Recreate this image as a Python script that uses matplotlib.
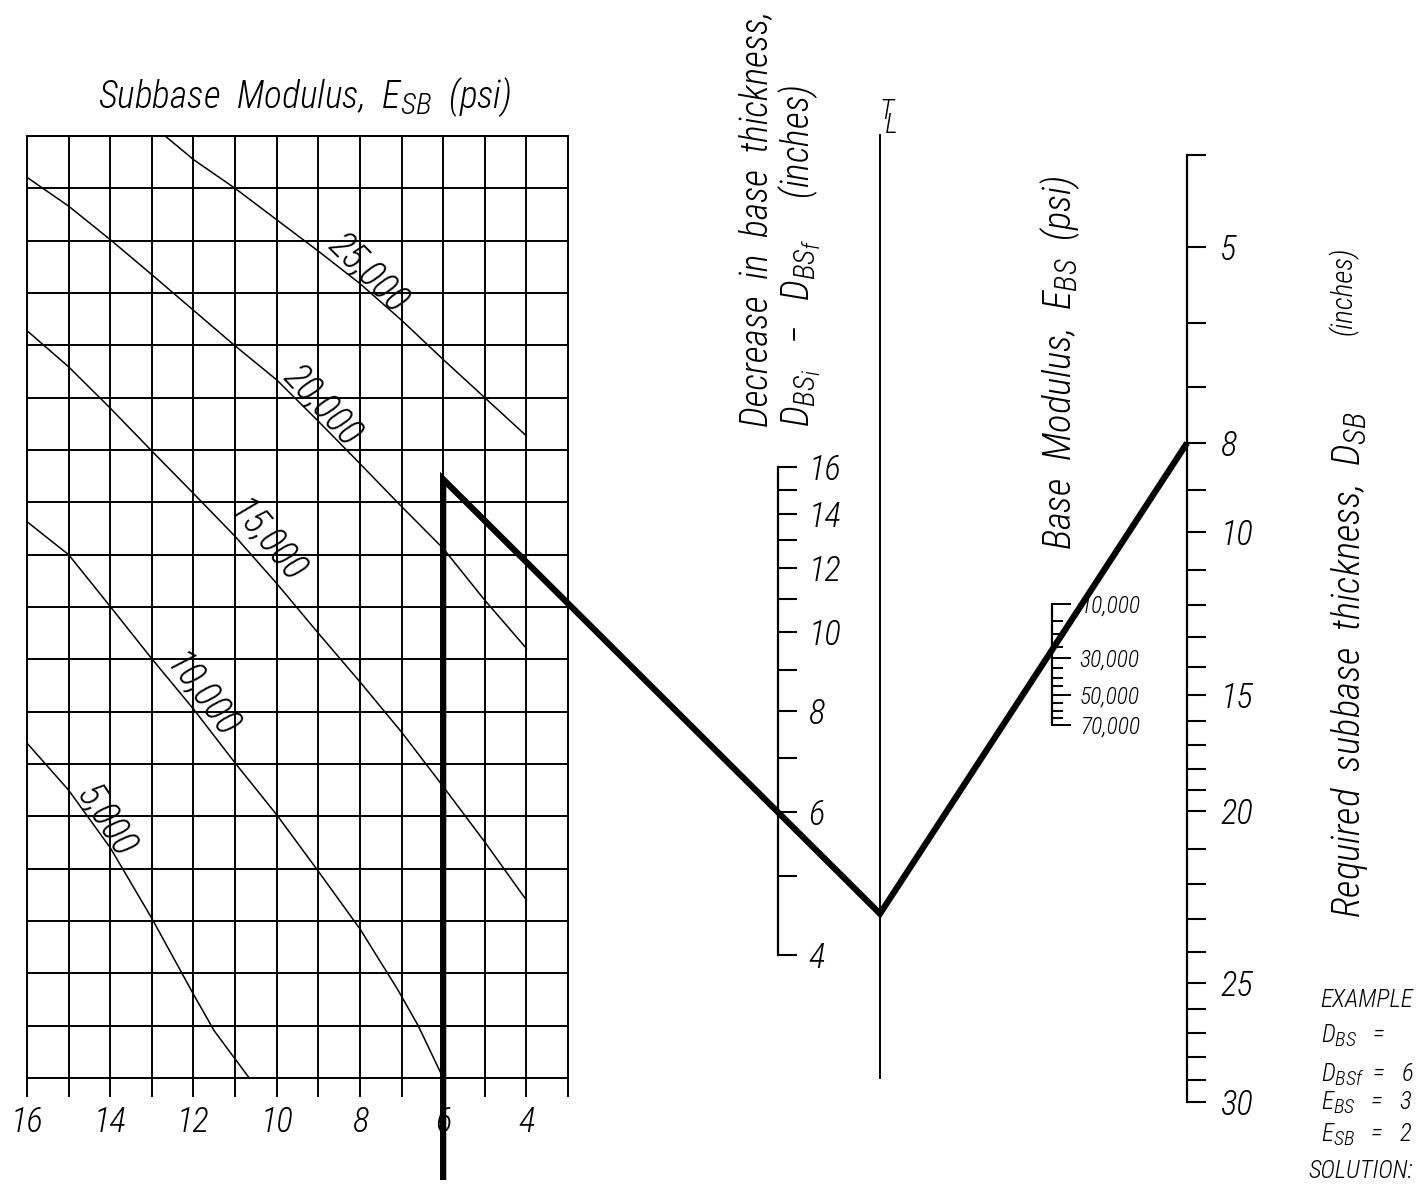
import matplotlib
matplotlib.use("Agg")
import matplotlib.pyplot as plt
import matplotlib._mathtext as mathtext_impl
from matplotlib import font_manager
from matplotlib.lines import Line2D
from matplotlib.ticker import NullLocator
import numpy as np

# ---------------- values ----------------
grid_x = list(range(3, 17))                 # bottom scale of the grid (inches)
grid_x_labels = [16, 14, 12, 10, 8, 6, 4]
n_rows = 18                                 # horizontal grid bands

# subbase modulus curves: x = grid value, y = grid row (0 = top)
esb_25000_x = [12.68, 12, 11, 10, 9, 8, 7, 6, 5, 4]
esb_25000_y = [0, 0.45, 1.0, 1.6, 2.2, 2.82, 3.52, 4.27, 5.0, 5.73]
esb_20000_x = [16, 15, 14, 13, 12, 11, 10, 9, 8, 7, 6, 5, 4]
esb_20000_y = [0.79, 1.34, 1.98, 2.65, 3.33, 4.01, 4.66, 5.45, 6.26, 7.08, 7.88, 8.87, 9.79]
esb_15000_x = [16, 15, 14, 13, 12, 11, 10, 9, 8, 7, 6, 5, 4]
esb_15000_y = [3.72, 4.41, 5.2, 6.02, 6.83, 7.65, 8.55, 9.5, 10.43, 11.39, 12.43, 13.49, 14.6]
esb_10000_x = [16, 15, 14, 13, 12, 11, 10, 9, 8, 7.1, 6.6, 6.0]
esb_10000_y = [7.37, 8.0, 8.99, 9.99, 10.95, 11.98, 12.97, 14.05, 15.15, 16.3, 17.0, 18.0]
esb_5000_x = [16, 15, 14, 13, 12, 11.5, 10.66]
esb_5000_y = [11.6, 12.5, 13.6, 14.95, 16.4, 17.1, 18.0]

esb_labels = ['25,000', '20,000', '15,000', '10,000', '5,000']
esb_label_x = [7.8, 8.9, 10.25, 11.8, 14.1]
esb_label_y = [2.62, 5.15, 7.75, 10.7, 13.1]
esb_label_rot = [-45, -47, -50, -53, -57]

decrease_ticks = list(range(4, 17))
decrease_labels = [str(v) if v % 2 == 0 else '' for v in decrease_ticks]

ebs_ticks = list(range(10000, 70001, 5000))
ebs_major = [10000, 30000, 50000, 70000]
ebs_labels = ['10,000', '30,000', '50,000', '70,000']

dsb_ticks = list(range(4, 31))
dsb_major = [5, 8, 10, 15, 20, 25, 30]

# example solution path
sol_grid_x = 6
sol_turn_row = 6.56
sol_decrease = 6
sol_dsb = 8

# ---------------- fonts ----------------
names = {f.name for f in font_manager.fontManager.ttflist}
FONT = next((n for n in ['Roboto Condensed', 'Liberation Sans Narrow', 'DejaVu Sans'] if n in names),
            'DejaVu Sans')
plt.rcParams['font.family'] = FONT
plt.rcParams['font.style'] = 'italic'
plt.rcParams['font.weight'] = 'light'
plt.rcParams['mathtext.fontset'] = 'custom'
plt.rcParams['mathtext.it'] = FONT + ':italic:light'
plt.rcParams['mathtext.rm'] = FONT + ':italic:light'
plt.rcParams['mathtext.sf'] = FONT + ':italic:light'
plt.rcParams['mathtext.default'] = 'it'
# drafting-style subscripts are nearly full size
mathtext_impl.SHRINK_FACTOR = 0.8

W, H = 1416, 1185
fig = plt.figure(figsize=(W / 100, H / 100), dpi=100)


def box(l, t, r, b):
    return [l / W, 1 - b / H, (r - l) / W, (b - t) / H]


def fx(x):
    return x / W


def fy(y):
    return 1 - y / H


# ---------------- grid chart ----------------
ax = fig.add_axes(box(27, 136, 568, 1078))
ax.set_xlim(16, 3)
ax.set_ylim(n_rows, 0)
ax.set_xticks(grid_x)
ax.set_xticklabels([str(v) if v in grid_x_labels else '' for v in grid_x])
ax.set_yticks(range(n_rows + 1))
ax.tick_params(axis='y', length=0, labelleft=False)
ax.tick_params(axis='x', length=14, width=1.4, pad=6, labelsize=25)
ax.grid(True, color='black', lw=1.4)
for s in ax.spines.values():
    s.set_linewidth(1.4)

for xs, ys in [(esb_25000_x, esb_25000_y), (esb_20000_x, esb_20000_y),
               (esb_15000_x, esb_15000_y), (esb_10000_x, esb_10000_y),
               (esb_5000_x, esb_5000_y)]:
    ax.plot(xs, ys, color='black', lw=1.1)

for s, x, y, r in zip(esb_labels, esb_label_x, esb_label_y, esb_label_rot):
    ax.text(x, y, s, rotation=r, rotation_mode='anchor', ha='center', va='center', fontsize=27)


# ---------------- nomograph scales ----------------
def scale_axes(x, top, bottom):
    a = fig.add_axes(box(x - 1, top, x, bottom))
    a.patch.set_visible(False)
    for k in ('left', 'top', 'bottom'):
        a.spines[k].set_visible(False)
    a.spines['right'].set_linewidth(1.6)
    a.set_xlim(0, 1)
    a.set_xticks([])
    a.yaxis.set_ticks_position('right')
    return a


ax_dec = scale_axes(778, 467, 955)
ax_dec.set_yscale('log')
ax_dec.set_ylim(4, 16)
ax_dec.set_yticks(decrease_ticks, decrease_labels)
ax_dec.yaxis.set_minor_locator(NullLocator())
ax_dec.tick_params(axis='y', direction='out', length=14, width=1.5, pad=8, labelsize=25)

ax_ebs = scale_axes(1052, 604, 725)
ax_ebs.set_yscale('function', functions=(np.sqrt, np.square))
ax_ebs.set_ylim(70000, 10000)
ax_ebs.set_yticks(ebs_major, ebs_labels)
ax_ebs.set_yticks([v for v in ebs_ticks if v not in ebs_major], minor=True)
ax_ebs.tick_params(axis='y', which='major', direction='out', length=14, width=1.4, pad=6, labelsize=17)
ax_ebs.tick_params(axis='y', which='minor', direction='out', length=8, width=1.4)

# the D_SB scale is logarithmic down to ~15 in and is drawn more open below that;
# graduation of the printed scale (relative spacing along the line)
dsb_grad_v = np.log([4, 5, 8, 10, 15, 20, 25, 30])
dsb_grad_s = np.array([0, 92, 288, 377, 540, 656, 828, 947]) / 947.0


def dsb_fwd(v):
    return np.interp(np.log(np.clip(v, 1e-6, None)), dsb_grad_v, dsb_grad_s)


def dsb_inv(s):
    return np.exp(np.interp(s, dsb_grad_s, dsb_grad_v))


ax_dsb = scale_axes(1187, 155, 1102)
ax_dsb.set_yscale('function', functions=(dsb_fwd, dsb_inv))
ax_dsb.set_ylim(30, 4)
ax_dsb.set_yticks(dsb_ticks, [str(v) if v in dsb_major else '' for v in dsb_ticks])
ax_dsb.yaxis.set_minor_locator(NullLocator())
ax_dsb.tick_params(axis='y', direction='out', length=14, width=1.5, pad=10, labelsize=25)

# turning line T_L
ax_tl = fig.add_axes(box(879, 135, 880, 1078))
ax_tl.patch.set_visible(False)
for k in ('left', 'top', 'bottom'):
    ax_tl.spines[k].set_visible(False)
ax_tl.spines['right'].set_linewidth(1.4)
ax_tl.set_xticks([])
ax_tl.set_yticks([])
fig.text(fx(879), fy(133), 'T\n L', ha='left', va='baseline', multialignment='left',
         linespacing=0.4, fontsize=20)

# ---------------- solution line ----------------
to_fig = fig.transFigure.inverted()


def pt(a, x, y):
    return to_fig.transform(a.transData.transform((x, y)))


p_start = pt(ax, sol_grid_x, n_rows + 1.95)
p_turn = pt(ax, sol_grid_x, sol_turn_row)
p_dec = pt(ax_dec, 1, sol_decrease)
tl_x = to_fig.transform(ax_tl.transAxes.transform((1, 0)))[0]
tl_y = p_turn[1] + (tl_x - p_turn[0]) * (p_dec[1] - p_turn[1]) / (p_dec[0] - p_turn[0])
p_dsb = pt(ax_dsb, 1, sol_dsb)
xs = [p_start[0], p_turn[0], tl_x, p_dsb[0]]
ys = [p_start[1], p_turn[1], tl_y, p_dsb[1]]
fig.add_artist(Line2D(xs, ys, transform=fig.transFigure, color='black', lw=4.5,
                      solid_joinstyle='miter', solid_capstyle='butt'))

# ---------------- titles ----------------
fig.text(fx(305), fy(108), r'Subbase  Modulus,  $E_{SB}$  (psi)', ha='center', va='baseline', fontsize=27)
fig.text(fx(757), fy(427), 'Decrease  in  base  thickness,', rotation=90, ha='center', va='bottom',
         fontsize=27)
fig.text(fx(800), fy(427), r'$D_{BS_i}$   $-$   $D_{BS_f}$     (inches)', rotation=90, ha='center',
         va='bottom', fontsize=27)
fig.text(fx(1060), fy(550), r'Base  Modulus,  $E_{BS}$  (psi)', rotation=90, ha='center', va='bottom',
         fontsize=28)
fig.text(fx(1350), fy(918), r'Required  subbase  thickness,  $D_{SB}$', rotation=90, ha='center',
         va='bottom', fontsize=28)
fig.text(fx(1343), fy(335), '(inches)', rotation=90, ha='center', va='bottom', fontsize=21)

# example block (runs up to the right edge as in the source)
example_lines = ['EXAMPLE', r'$D_{BS}$   =', r'$D_{BSf}$  =   6', r'$E_{BS}$   =   3',
                 r'$E_{SB}$   =   2', 'SOLUTION:']
example_x = [1320, 1321, 1321, 1321, 1321, 1308]
example_y = [1007, 1043, 1082, 1110, 1142, 1178]
for s, x, y in zip(example_lines, example_x, example_y):
    fig.text(fx(x), fy(y), s, ha='left', va='baseline', fontsize=18)

fig.savefig('out.png', dpi=100)
